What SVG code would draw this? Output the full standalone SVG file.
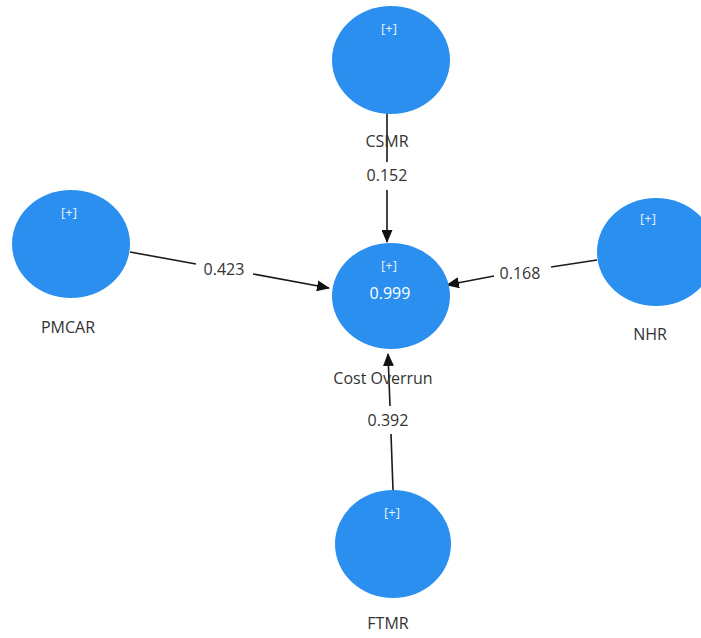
<svg xmlns="http://www.w3.org/2000/svg" width="701" height="638" viewBox="0 0 701 638">
<style>
.node{fill:#2b8ff0}
.plus{fill:#e8f2ff;font-family:"Open Sans","Noto Sans",sans-serif;font-size:13px;text-anchor:middle}
.val{fill:#ffffff;font-family:"Open Sans","Noto Sans",sans-serif;font-size:16px;text-anchor:middle}
.lbl{fill:#333333;font-family:"Open Sans","Noto Sans",sans-serif;font-size:16px;text-anchor:middle}
.edge{stroke:#1a1a1a;stroke-width:1.6;fill:none}
.elbl{fill:#333333;font-family:"Open Sans","Noto Sans",sans-serif;font-size:16px;text-anchor:middle}
</style>
<defs>
<marker id="arr" markerUnits="userSpaceOnUse" markerWidth="13" markerHeight="11" refX="12" refY="5.5" orient="auto">
<path d="M0,0 L13,5.5 L0,11 z" fill="#111111"/>
</marker>
</defs>
<rect width="701" height="638" fill="#ffffff"/>
<g id="connectors">
<line class="edge" x1="387" y1="113" x2="387" y2="162"/>
<line class="edge" x1="387" y1="190" x2="387" y2="242" marker-end="url(#arr)"/>
<line class="edge" x1="130" y1="252" x2="196" y2="264"/>
<line class="edge" x1="253" y1="274" x2="329" y2="288" marker-end="url(#arr)"/>
<line class="edge" x1="597" y1="260" x2="551" y2="267"/>
<line class="edge" x1="494" y1="276" x2="447" y2="285" marker-end="url(#arr)"/>
<line class="edge" x1="393" y1="490" x2="391" y2="434"/>
<line class="edge" x1="390" y1="406" x2="388" y2="354" marker-end="url(#arr)"/>
<text class="elbl" x="387" y="181">0.152</text>
<text class="elbl" x="224" y="275">0.423</text>
<text class="elbl" x="520" y="279">0.168</text>
<text class="elbl" x="388" y="426">0.392</text>
</g>
<g id="CSMR">
<ellipse class="node" cx="391" cy="60" rx="59" ry="54"/>
<text class="plus" x="389" y="33">[+]</text>
<text class="lbl" x="387" y="147">CSMR</text>
</g>
<g id="PMCAR">
<ellipse class="node" cx="71" cy="244" rx="59" ry="54"/>
<text class="plus" x="69" y="217">[+]</text>
<text class="lbl" x="68" y="333">PMCAR</text>
</g>
<g id="NHR">
<ellipse class="node" cx="656" cy="252" rx="59" ry="54"/>
<text class="plus" x="648" y="223">[+]</text>
<text class="lbl" x="650" y="340">NHR</text>
</g>
<g id="CostOverrun">
<ellipse class="node" cx="391" cy="296" rx="59" ry="53"/>
<text class="plus" x="389" y="270">[+]</text>
<text class="val" x="390" y="299">0.999</text>
<text class="lbl" x="383" y="384">Cost Overrun</text>
</g>
<g id="FTMR">
<ellipse class="node" cx="393" cy="544" rx="58" ry="54"/>
<text class="plus" x="392" y="517">[+]</text>
<text class="lbl" x="388" y="629">FTMR</text>
</g>
</svg>
